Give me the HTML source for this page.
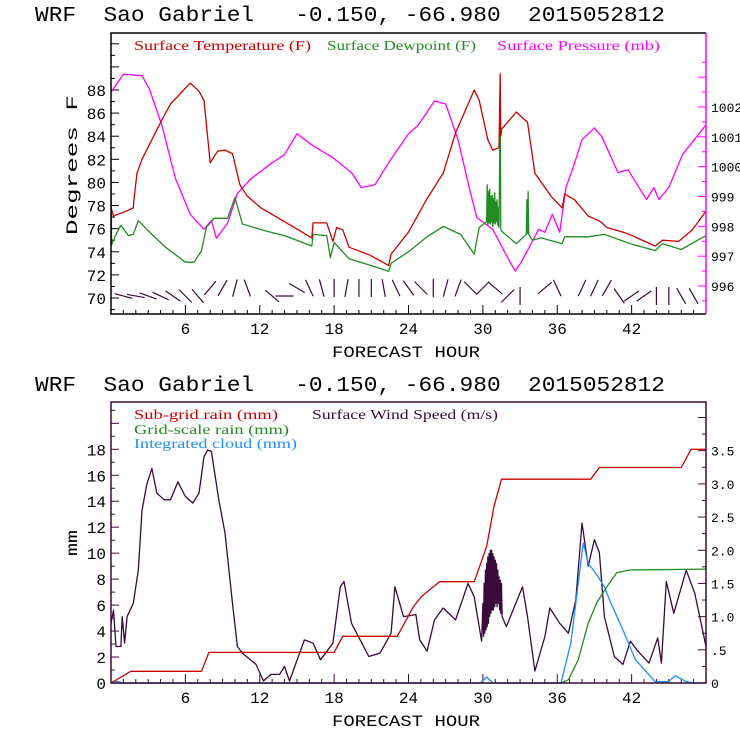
<!DOCTYPE html>
<html><head><meta charset="utf-8">
<style>
html,body{margin:0;padding:0;background:#fff;}
svg{display:block;}
text{white-space:pre;}
.ttl{font-family:"Liberation Mono",monospace;font-size:21px;fill:#000;}
.tk{font-family:"Liberation Mono",monospace;font-size:16px;fill:#000;}
.tkr{font-family:"Liberation Mono",monospace;font-size:13px;fill:#000;}
.lg{font-family:"Liberation Serif",serif;font-size:14px;}
</style></head>
<body>
<svg id="chart" width="740" height="740" viewBox="0 0 740 740">
<rect width="740" height="740" fill="#fff"/>
<g id="top"></g>
<g id="bot"></g>
</svg>
<script>
// ---------- top panel data ----------
const tempHours=[0,0.2,1.2,1.8,1.85,2.1,2.5,3.3,4.1,4.8,5.6,6.4,7.1,7.5,8.0,8.6,9.2,9.8,10.4,11,12.1,14,16.2,16.3,17.4,17.9,18.2,18.7,19.2,20.9,22.4,22.6,24,25.5,26.8,27.8,29.3,29.7,30.4,30.8,31.3,31.4,31.45,31.5,32.7,33.6,34.2,35.5,36.4,36.6,37.4,38.5,39.5,40,41.6,43.9,44.5,45.8,46.9,48];
const tempVals=[77.8,77.1,77.5,77.8,78.5,80.8,82,83.7,85.4,86.8,87.7,88.6,87.9,87.1,81.7,82.7,82.8,82.5,79.8,78.8,77.8,76.6,75.2,76.5,76.5,74.9,76.1,75.9,74.4,73.7,72.8,73.8,75.7,78.6,80.8,84.3,88,87.1,83.7,82.8,83,89.4,84,84.6,86.1,85.2,80.8,78.8,77.8,79,78.5,77.1,76.6,76.1,75.6,74.5,75,74.9,75.9,77.5];
const dewHours=[0,0.05,0.4,0.8,1.4,1.8,2.2,3.3,4.4,6,6.7,7.3,7.7,8.3,9.4,10,10.6,12.5,14,16.2,16.3,17.4,17.7,18,19.2,21.3,22.4,22.6,24,25.5,26.8,28.2,29.3,29.7,30.3,30.35,30.4,30.45,30.5,30.55,30.6,30.65,30.7,30.75,30.8,30.85,30.9,30.95,31.0,31.05,31.1,31.15,31.2,31.25,31.3,31.4,31.45,31.5,32.7,33.5,33.55,33.6,33.65,33.7,34,34.7,36.4,36.6,38.5,39.8,41.9,43.9,44.5,46,48];
const dewVals=[81.3,74.6,75.5,76.3,75.4,75.5,76.7,75.5,74.4,73.1,73.1,74.1,76.1,76.9,76.9,78.7,76.4,75.8,75.4,74.5,75.5,75.4,73.5,74.8,73.4,72.7,72.3,73,74,75.3,76.2,75.5,73.8,76.1,76.6,79.8,76.3,79.2,76.5,79.4,76.4,78.8,76.6,78.9,76.2,78.6,76.5,79.1,76.4,78.3,76.6,78.5,76.3,77.8,76.1,86.8,76,75.8,74.7,75.5,78.5,75.6,79.2,75.5,75,75.2,74.7,75.3,75.3,75.5,74.7,74.1,74.7,74.2,75.4];
const presHours=[0,1,2.5,3.1,4.1,5.2,6.4,7.5,8.1,8.5,9.4,10.2,11.3,12.9,14,15,16.3,17.9,19.4,20.2,21.3,22.5,24,24.8,26.1,27,28,28.9,29.5,30.8,31.8,32.6,33.1,34.5,35,35.6,36.2,36.7,37.3,38,39,39.6,40.9,41.7,43.2,43.8,44.2,45,46.1,48];
const presVals=[1002.5,1003.1,1003.05,1002.6,1001.4,999.6,998.4,997.9,998.2,997.6,998.1,999.1,999.6,1000.1,1000.4,1001.1,1000.7,1000.3,999.8,999.3,999.4,1000.2,1001.1,1001.4,1002.2,1002.1,1000.9,999.3,998.3,997.9,997.1,996.5,996.8,997.9,997.8,998.4,997.8,999.3,1000,1000.9,1001.3,1001,999.8,999.9,998.9,999.3,998.9,999.3,1000.4,1001.4];
const barbHours=[1,2,3,4,5,6,7,8,9,10,11,13,14,15,16,17,18,19,20,21,22,23,24,25,26,27,28,29,30,31,32,33,35,36,38,39,40,41,42,43,44,45,46,47];
const barbAngles=[-15,-10,-20,-25,-35,-45,-50,50,60,75,-70,-40,0,-30,-65,-75,90,80,90,90,-80,-65,-55,-45,90,75,70,-45,45,-40,45,90,40,-65,65,65,60,-55,35,35,90,90,-60,-60];
const barbRows=[0,0,0,0,0,0,0,1,1,1,1,0,0,1,1,1,1,1,1,1,1,1,1,1,1,1,1,1,1,1,0,0,1,1,1,1,1,0,0,0,0,0,0,0];
const leftTicks=[70,72,74,76,78,80,82,84,86,88];
const rightTicks=[996,997,998,999,1000,1001,1002];
const xTicks=[6,12,18,24,30,36,42];
// ---------- bottom panel data ----------
const subHours=[0,1.6,7.3,7.9,18,18.7,23.1,24.4,25.1,26.5,29.3,30.3,30.9,31.5,38.7,39.4,46,46.8,48];
const subVals=[0,0.9,0.9,2.36,2.36,3.6,3.6,5.9,6.7,7.8,7.8,10.5,13.6,15.7,15.7,16.6,16.6,18,18];
const gridHours=[0,36.3,36.9,37.7,38.5,39.2,40,40.8,41.9,48];
const gridVals=[0,0,0.25,1.8,4.6,6.2,7.4,8.5,8.7,8.77];
const cloudHours=[0,0.3,0.6,1,29.8,30.3,30.8,36.3,37.1,37.7,38.1,38.5,39,39.8,40.3,41.3,42.3,43.9,45,45.5,46.4,47,48];
const cloudVals=[0,0.15,0.1,0,0,0.46,0,0,3.1,7.7,10.8,9.2,8.6,7.4,6.2,4.1,1.8,0.1,0.1,0.56,0.1,0,0];
const windHours=[0,0.2,0.4,0.8,0.9,1.1,1.3,1.8,2.2,2.5,2.9,3.3,3.7,4.3,4.8,5.4,6,6.6,7.1,7.5,7.8,8.1,8.7,9.2,9.8,10.2,10.6,11.7,12.3,12.9,13.6,14,14.4,15.6,16.3,16.9,17.9,18.5,18.8,19.4,20.8,21.7,22.6,22.9,23.6,24.6,24.9,25.5,26.1,26.8,27.8,28.8,29.3,29.9,30.0,30.05,30.1,30.15,30.2,30.25,30.3,30.35,30.4,30.45,30.5,30.55,30.6,30.65,30.7,30.75,30.8,30.85,30.9,30.95,31.0,31.05,31.1,31.15,31.2,31.25,31.3,31.35,31.4,31.45,31.5,31.55,31.9,33.2,33.6,34.2,35,35.4,36.2,36.9,37.5,38,38.5,39,39.4,39.8,40.6,41.3,41.9,42.5,43.4,44.1,44.4,44.8,45.4,46.4,47.1,48];
const windVals=[0.9,1.1,0.55,0.55,1.0,0.6,1.0,1.2,1.7,2.6,3.0,3.23,2.86,2.76,2.76,3.03,2.81,2.71,2.86,3.41,3.51,3.49,2.76,2.26,1.2,0.55,0.45,0.28,0.03,0.13,0.13,0.25,0.03,0.65,0.6,0.35,0.6,1.45,1.53,0.9,0.4,0.45,0.75,1.45,1.0,1.03,0.65,0.48,0.95,1.13,0.95,1.5,1.3,0.63,1.2,0.7,1.5,0.75,1.7,0.8,1.8,0.85,1.9,0.9,1.95,1.0,2.0,1.05,2.0,1.1,1.95,1.1,1.9,1.15,1.85,1.2,1.8,1.15,1.7,1.2,1.6,1.1,1.55,1.05,1.5,1.0,0.85,1.45,1.0,0.18,0.7,1.13,0.9,0.75,1.25,2.41,1.76,2.16,1.96,1.0,0.4,0.28,0.63,0.48,0.3,0.68,0.3,1.53,1.05,1.7,1.35,0.55];
const mmTicks=[0,2,4,6,8,10,12,14,16,18];
const msTicks=[0,0.5,1.0,1.5,2.0,2.5,3.0,3.5];
const msLabels=["0",".5","1.0","1.5","2.0","2.5","3.0","3.5"];
const tlLabels=["70","72","74","76","78","80","82","84","86","88"];
const mmLabels=["0","2","4","6","8","10","12","14","16","18"];

const NS='http://www.w3.org/2000/svg';
const X0=111,X1=706;
const xs=h=>X0+(X1-X0)*h/48;
function mk(tag,attrs,parent){const e=document.createElementNS(NS,tag);for(const k in attrs)e.setAttribute(k,attrs[k]);parent.appendChild(e);return e;}
function line(parent,hours,vals,ys,color,name,w){
  let d='';hours.forEach((h,i)=>{d+=(i?'L':'M')+xs(h).toFixed(1)+','+ys(vals[i]).toFixed(1);});
  const p=mk('path',{d:d,fill:'none',stroke:color,'stroke-width':w||1.3,'stroke-linejoin':'round'},parent);
  
  
}
function txt(parent,x,y,s,cls,anchor,fill,name,len){
  const t=mk('text',{x:x,y:y,class:cls,'text-anchor':anchor||'start'},parent);
  if(fill)t.setAttribute('fill',fill);
  if(len){t.setAttribute('textLength',len);t.setAttribute('lengthAdjust','spacingAndGlyphs');}
  t.textContent=s;
  
  
  return t;
}
function xAxis(g,Y1,frameColor){
  for(let h=1;h<48;h++){
    const big=h%6===0;
    const t=mk('line',{x1:xs(h),x2:xs(h),y1:Y1,y2:Y1-(big?9:4),stroke:frameColor,'stroke-width':1},g);
    
    
  }
  xTicks.forEach(h=>txt(g,xs(h),Y1+20,String(h),'tk','middle',null,'x-tick-label').setAttribute('font-size','18'));
  txt(g,332,Y1+43,'FORECAST HOUR','tk','start',null,'x-axis-title',148).setAttribute('font-size','18');
}
// ---------- TOP ----------
(function(){
  const g=document.getElementById('top');
  const Y0=33,Y1=314;
  const yT=v=>298-(v-70)*(298-90)/18;
  const yP=v=>286-(v-996)*(286-107)/6;
  txt(g,35,21,'WRF  Sao Gabriel   -0.150, -66.980  2015052812','ttl','start',null,'top-title',630);
  for(let v=69;v<=92;v++){const t=mk('line',{x1:X0,x2:X0+(v%2===0?8:4),y1:yT(v),y2:yT(v),stroke:'#000'},g);}
  leftTicks.forEach((v,i)=>txt(g,106,yT(v)+6,tlLabels[i],'tk','end',null,'y-tick-label'));
  for(let v=995.5;v<=1003.5;v+=0.5){const t=mk('line',{x1:X1,x2:X1-(v%1===0?8:4),y1:yP(v),y2:yP(v),stroke:'#ff00ff'},g);}
  rightTicks.forEach(v=>txt(g,711,yP(v)+5,String(v),'tkr','start',null,'y2-tick-label'));
  const yt=txt(g,0,0,'Degrees F','tk','middle',null,'y-axis-title',140);
  yt.setAttribute('transform','translate(77,165) rotate(-90)');yt.setAttribute('font-size','22');
  xAxis(g,Y1,'#000');
  line(g,presHours,presVals,yP,'#ff00ff','pressure-line');
  line(g,dewHours,dewVals,yT,'#228b22','dewpoint-line');
  line(g,tempHours,tempVals,yT,'#cc0000','temperature-line');
  barbHours.forEach((h,i)=>{
    const a=barbAngles[i]*Math.PI/180,L=9;
    const cx=xs(h),cy=barbRows[i]?288:296;
    const dx=L*Math.cos(a),dy=L*Math.sin(a);
    const b=mk('line',{x1:cx-dx,y1:cy+dy,x2:cx+dx,y2:cy-dy,stroke:'#3a0a3a','stroke-width':1.2},g);
    
    
  });
  const fr=mk('path',{d:`M${X1},${Y0}H${X0}V${Y1}H${X1}`,fill:'none',stroke:'#000','stroke-width':1.5},g);
  
  const rf=mk('line',{x1:X1,x2:X1,y1:Y0,y2:Y1,stroke:'#ff00ff','stroke-width':1.5},g);
  
  txt(g,134,50,'Surface Temperature (F)','lg','start','#cc0000','legend-temperature',177);
  txt(g,327,50,'Surface Dewpoint (F)','lg','start','#228b22','legend-dewpoint',149);
  txt(g,497,50,'Surface Pressure (mb)','lg','start','#ff00ff','legend-pressure',163);
})();
// ---------- BOTTOM ----------
(function(){
  const g=document.getElementById('bot');
  const Y0=402,Y1=683;
  const yM=v=>683-v*(683-449.3)/18;
  const yW=v=>683-v*(683-450.7)/3.5;
  txt(g,35,391,'WRF  Sao Gabriel   -0.150, -66.980  2015052812','ttl','start',null,'bottom-title',630);
  for(let v=1;v<=21;v++){const t=mk('line',{x1:X0,x2:X0+(v%2===0?8:4),y1:yM(v),y2:yM(v),stroke:'#3a0a3a'},g);}
  mmTicks.forEach((v,i)=>txt(g,106,yM(v)+6,mmLabels[i],'tk','end',null,'y-tick-label'));
  for(let v=0.25;v<=4.2;v+=0.25){const t=mk('line',{x1:X1,x2:X1-(Math.abs(v*2-Math.round(v*2))<0.01?8:4),y1:yW(v),y2:yW(v),stroke:'#3a0a3a'},g);}
  msTicks.forEach((v,i)=>txt(g,711,yW(v)+5,msLabels[i],'tkr','start',null,'y2-tick-label'));
  const yt=txt(g,0,0,'mm','tk','middle',null,'y-axis-title',26);
  yt.setAttribute('transform','translate(77,543) rotate(-90)');yt.setAttribute('font-size','20');
  xAxis(g,Y1,'#3a0a3a');
  line(g,windHours,windVals,yW,'#3a0a3a','wind-speed-line');
  line(g,cloudHours,cloudVals,yM,'#1e90ff','cloud-line');
  line(g,gridHours,gridVals,yM,'#228b22','grid-rain-line');
  line(g,subHours,subVals,yM,'#cc0000','subgrid-rain-line');
  const fr=mk('rect',{x:X0,y:Y0,width:X1-X0,height:Y1-Y0,fill:'none',stroke:'#3a0a3a','stroke-width':1.5},g);
  
  txt(g,134,419,'Sub-grid rain (mm)','lg','start','#cc0000','legend-subgrid-rain',144);
  txt(g,312,419,'Surface Wind Speed (m/s)','lg','start','#3a0a3a','legend-wind-speed',186);
  txt(g,134,434,'Grid-scale rain (mm)','lg','start','#228b22','legend-grid-rain',155);
  txt(g,134,448,'Integrated cloud (mm)','lg','start','#1e90ff','legend-cloud',163);
})();
</script>
</body></html>
